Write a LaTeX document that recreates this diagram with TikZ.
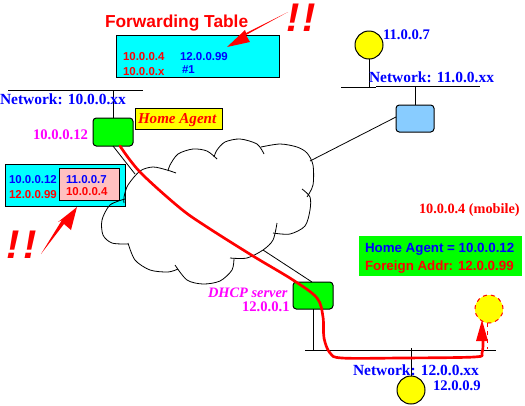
\documentclass[tikz,border=0pt]{standalone}
\usepackage{fontspec}
\setmainfont{Liberation Serif}
\setsansfont{Liberation Sans}
\usetikzlibrary{arrows.meta}
\definecolor{mag}{RGB}{255,0,255}
\definecolor{pinkbox}{RGB}{255,192,192}
\definecolor{skyb}{RGB}{136,204,255}
\definecolor{cyanfill}{RGB}{0,255,255}
\definecolor{greenfill}{RGB}{0,255,0}
\definecolor{yellowfill}{RGB}{255,255,0}
\definecolor{redink}{RGB}{255,0,0}
\definecolor{blueink}{RGB}{0,0,255}
\tikzset{
 x=0.75pt,y=-0.75pt,
 wire/.style={draw=black,line width=0.75pt},
 thin wire/.style={draw=black,line width=0.6pt},
 cloudline/.style={draw=black,line width=0.6pt},
 txt/.style={inner sep=0,outer sep=0,anchor=base west},
 netlabel/.style={txt,text=blueink,font=\fontsize{11.6}{13}\selectfont\bfseries},
 iplabel/.style={txt,text=blueink,font=\fontsize{11}{13}\selectfont\bfseries},
 maglabel/.style={txt,text=mag,font=\fontsize{11}{13}\selectfont\bfseries},
 sred/.style={txt,text=redink,font=\fontsize{8.6}{10}\selectfont\sffamily\bfseries},
 sblue/.style={txt,text=blueink,font=\fontsize{8.6}{10}\selectfont\sffamily\bfseries},
 bigs/.style={txt,font=\fontsize{10}{12}\selectfont\sffamily\bfseries},
 bang/.style={txt,text=redink,font=\fontsize{30}{32}\selectfont\sffamily\bfseries\itshape},
 panel/.style={draw=black,line width=0.75pt,fill=cyanfill,inner sep=0,outer sep=0,anchor=north west},
 router/.style={draw=black,line width=0.75pt,rectangle,rounded corners=2.5pt,inner sep=0,outer sep=0},
 host/.style={circle,draw=black,line width=0.75pt,fill=yellowfill,minimum size=21pt,inner sep=0,outer sep=0},
 redpath/.style={draw=redink,line width=2pt,line join=round,line cap=round},
 bigarrow/.style={fill=redink,draw=none},
}
\begin{document}
\begin{tikzpicture}
\useasboundingbox (0,0) rectangle (525,405);
\fill[white] (0,0) rectangle (525,405);

% panels
\node[panel,minimum width=90pt,minimum height=31.5pt] (ltable) at (5,164) {};
\node[panel,fill=pinkbox,minimum width=45pt,minimum height=24pt] (lpink) at (59,168) {};
\node[panel,minimum width=122.25pt,minimum height=31.5pt] (ftable) at (116,35) {};
\node[panel,fill=greenfill,draw=none,minimum width=122.25pt,minimum height=30pt] (hinfo) at (359,236) {};
\node[panel,fill=yellowfill,minimum width=65.25pt,minimum height=15.75pt] (hatag) at (135,108) {};
\node[txt,text=redink,font=\fontsize{11.3}{13}\selectfont\bfseries\itshape] (hatxt) at (138,123) {Home Agent};

% cloud
\draw[cloudline] plot[smooth] coordinates {(125,199) (110,205) (102,220) (103,235) (112,243) (128,244)};
\draw[cloudline] plot[smooth] coordinates {(128,243) (135,260) (150,270) (168,272) (178,269)};
\draw[cloudline] plot[smooth] coordinates {(175,265) (187,280) (203,284) (220,281) (232,270) (234,258)};
\draw[cloudline] plot[smooth] coordinates {(230,258) (247,258) (263,250) (273,240) (277,223)};
\draw[cloudline] plot[smooth] coordinates {(273,233) (290,234) (305,226) (310,210) (310,197) (302,189)};
\draw[cloudline] plot[smooth] coordinates {(307,197) (313,185) (313,165) (307,153) (297,147) (280,144) (261,147)};
\draw[cloudline] plot[smooth] coordinates {(264,154) (257,144) (240,139) (225,142) (217,150) (214,157)};
\draw[cloudline] plot[smooth] coordinates {(217,159) (207,151) (193,149) (178,154) (170,165) (168,171)};
\draw[cloudline] plot[smooth] coordinates {(176,173) (167,170) (153,167) (140,171) (128,185) (124,197) (124,203)};

% nodes
\node[router,fill=greenfill,minimum width=30pt,minimum height=21pt] (ha) at (113,132) {};
\node[router,fill=skyb,minimum width=28.5pt,minimum height=20.25pt] (fa) at (415,118.5) {};
\node[router,fill=greenfill,minimum width=30pt,minimum height=20.25pt] (dhcp) at (313,295.5) {};
\node[host] (h11) at (369,45) {};
\node[host] (h12) at (411,390) {};
\coordinate (net10a) at (8,90); \coordinate (net10b) at (143,90); \coordinate (net10t) at (113,90);
\coordinate (net11a) at (341,87); \coordinate (net11b) at (376,87); \coordinate (net11t) at (369,87);
\coordinate (net11c) at (376,86); \coordinate (net11d) at (480,86); \coordinate (net11u) at (415,86);
\coordinate (net12a) at (305,350); \coordinate (net12b) at (496,350); \coordinate (net12u) at (313,350); \coordinate (net12v) at (411,348);
\coordinate (cl1) at (135,174); \coordinate (cl2) at (263,250); \coordinate (cl3) at (310,161);
\coordinate (fap) at (396,117); \coordinate (hap) at (113,146); \coordinate (dp) at (312,282);
\draw[wire] (net10a) -- (net10b);
\draw[wire] (net10t) -- (ha.north);
\draw[wire] (net11a) -- (net11b);
\draw[wire] (net11c) -- (net11d);
\draw[wire] (net11t) -- (h11.south);
\draw[wire] (net11u) -- (fa.north);
\draw[wire] (net12a) -- (net12b);
\draw[wire] (dhcp.south) -- (net12u);
\draw[wire] (net12v) -- (h12.north);
\draw[thin wire] (hap) -- (cl1);
\draw[thin wire] (cl2) -- (dp);
\draw[thin wire] (cl3) -- (fap);

% mobile
\node[circle,draw=redink,dashed,line width=0.75pt,fill=yellowfill,minimum size=21pt,inner sep=0,outer sep=0] (mob) at (489,309) {};
\coordinate (mobs) at (487,349);
\draw[draw=redink,dashed,line width=0.75pt] (mob.south) ++(-2,0) -- (mobs);

% red path
\coordinate (rs) at (120,146);
\coordinate (re) at (483,340);
\draw[redpath] plot[smooth,tension=0.55] coordinates {(rs) (140,172) (180,208) (207,227) (253,256) (293,280) (317,298) (323,317) (324,338) (330,353) (342,358) (400,358) (474,357) (482,353) (re)};
\fill[bigarrow] (482,320) -- (488,341) -- (476,341) -- cycle;

% arrows
\coordinate (atip) at (77,207);
\coordinate (atail) at (41,254);
\fill[bigarrow] (atip) -- (71,230) -- (64,224) -- (atail) -- (62,220) -- (58,222) -- cycle;
\coordinate (btip) at (227,47);
\coordinate (btail) at (288,12);
\fill[bigarrow] (btip) -- (250,42) -- (246,35) -- (btail) -- (246,33) -- (245,30) -- cycle;
\node[bang] (b1) at (7,258) {!\kern2.5pt!};
\node[bang] (b2) at (286,31) {!\kern2.5pt!};

% text
\node[txt,text=redink,font=\fontsize{13}{16}\selectfont\sffamily\bfseries] (ftitle) at (105,27) {Forwarding Table};
\node[sred] (t1) at (123,60) {10.0.0.4};
\node[sblue] (t2) at (180,60) {12.0.0.99};
\node[sred] (t3) at (123,75) {10.0.0.x};
\node[sblue] (t4) at (182,73) {\#1};
\node[netlabel] (n10) at (0,104) {Network: 10.0.0.xx};
\node[maglabel] (ip12) at (33,139) {10.0.0.12};
\node[sblue] (l1) at (9,183) {10.0.0.12};
\node[sred] (l2) at (9,198) {12.0.0.99};
\node[sblue] (l3) at (66,183) {11.0.0.7};
\node[sred] (l4) at (66,195) {10.0.0.4};
\node[iplabel] (i11) at (383,39) {11.0.0.7};
\node[netlabel] (n11) at (369,82) {Network: 11.0.0.xx};
\node[iplabel,text=redink,font=\fontsize{10.7}{13}\selectfont\bfseries] (mobt) at (419,213) {10.0.0.4 (mobile)};
\node[bigs,text=blueink] (hl1) at (365,252) {Home Agent = 10.0.0.12};
\node[bigs,text=redink] (hl2) at (365,270) {Foreign Addr: 12.0.0.99};
\node[txt,text=mag,font=\fontsize{10.8}{13}\selectfont\bfseries\itshape] (dh) at (208,297) {DHCP server};
\node[maglabel] (ip1) at (242,311) {12.0.0.1};
\node[netlabel] (n12) at (353,375) {Network: 12.0.0.xx};
\node[iplabel] (i9) at (433,390) {12.0.0.9};
\end{tikzpicture}
\end{document}
